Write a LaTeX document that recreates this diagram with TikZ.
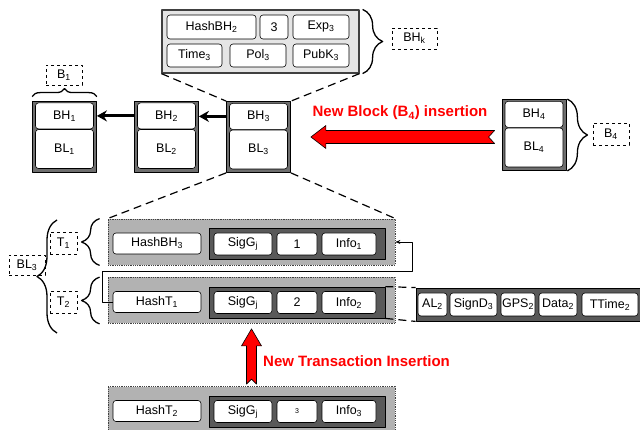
\documentclass[tikz,border=0pt]{standalone}
\usepackage{fontspec}
\setmainfont{Liberation Sans}
\usetikzlibrary{positioning,calc,arrows.meta,decorations.pathreplacing}

\begin{document}
\begin{tikzpicture}[x=1pt, y=-1pt, font=\fontsize{12.5}{14}\selectfont, line join=round, >=Stealth,
	cell/.style={draw, fill=white, rounded corners=3pt, line width=0.6pt, inner sep=0pt},
	tag/.style={draw, dashed, inner sep=0pt, line width=0.6pt},
	frame/.style={draw, fill=black!57, line width=0.8pt, inner sep=0pt},
	txbox/.style={draw=black!75, densely dotted, fill=black!30, line width=0.8pt, inner sep=0pt},
	sigbox/.style={draw, fill=black!65, line width=0.8pt, inner sep=0pt},
	wh/.style 2 args={minimum width=#1pt, minimum height=#2pt},
	brc/.style={decorate, decoration={brace, amplitude=#1}, line width=1.3pt},
	fan/.style={dash pattern=on 8pt off 5pt, line width=1.2pt},
	fat/.style={draw=black, line width=0.6pt, fill=red},
	redtxt/.style={text=red, inner sep=0pt, font=\fontsize{15}{17}\selectfont\bfseries}]
	\useasboundingbox (0,0) rectangle (640,430);
	
	% block header
	\node[frame, fill=black!10, draw=black!75, line width=1.2pt, wh={197}{63}] (bhk) at (260.5,41.5) {};
	\node[cell, wh={89}{24}] (hashbh) at (211.5,27) {HashBH\textsubscript{2}};
	\node[cell, wh={28}{24}] (nonce) at (274,27) {3};
	\node[cell, wh={56}{24}] (exp) at (321,27) {Exp\textsubscript{3}};
	\node[cell, wh={55}{23}] (time) at (194.5,55.5) {Time\textsubscript{3}};
	\node[cell, wh={56}{23}] (pol) at (258,55.5) {Pol\textsubscript{3}};
	\node[cell, wh={56}{23}] (pubk) at (321,55.5) {PubK\textsubscript{3}};
	\node[tag, wh={45}{21}] (lbhk) at (414.5,38.5) {BH\textsubscript{k}};
	\draw[brc=20pt] ([xshift=3pt]bhk.north east) -- ([xshift=3pt]bhk.south east);
	
	% chain of blocks
	\foreach \n/\x/\y in {1/64.5/136.5, 2/166.5/136.5, 3/258.5/137, 4/534/135} {
		\node[frame, wh={64}{71}] (b\n) at (\x,\y) {};
		\node[cell, wh={58}{26}, below=2pt of b\n.north] (bh\n) {BH\textsubscript{\n}};
		\node[cell, wh={58}{39}, below=0pt of bh\n] (bl\n) {BL\textsubscript{\n}};
	}
	\draw[line width=2.8pt, -{Stealth[length=10pt,width=11pt]}] (b2.west |- bh2) -- (b1.east |- bh2);
	\draw[line width=2.8pt, -{Stealth[length=10pt,width=11pt]}] (b3.west |- bh3) -- (b2.east |- bh3);
	\draw[fan] (bhk.south west) -- (b3.north west) (bhk.south east) -- (b3.north east);
	
	\node[tag, wh={36}{20}] (lb1) at (64,75) {B\textsubscript{1}};
	\draw[brc=8pt] ([yshift=4pt]b1.north west) -- ([yshift=4pt]b1.north east);
	\node[tag, wh={36}{22}] (lb4) at (611,134) {B\textsubscript{4}};
	\draw[brc=20pt] ([xshift=1pt]b4.north east) -- ([xshift=1pt]b4.south east);
	
	% new block arrow
	\coordinate (ntip) at ([xshift=20pt]b3.east);
	\coordinate (ntail) at (b4.west |- ntip);
	\draw[fat] (ntip) -- ++(15,-11.5) -- ++(0,5) -- ($(ntail)+(-7,-6.5)$) -- ++(-6,6.5) -- ++(6,6.5)
		-- ($(ntip)+(15,6.5)$) -- ++(0,5) -- cycle;
	\node[redtxt] (nbtxt) at (400,113) {New Block (B\textsubscript{4}) insertion};
	
	% transactions
	\foreach \k/\y/\hname/\num in {1/242/{HashBH\textsubscript{3}}/1, 2/300.5/{HashT\textsubscript{1}}/2,
		3/409.5/{HashT\textsubscript{2}}/{\fontsize{7}{8}\selectfont 3}} {
		\node[txbox, wh={287}{46}] (t\k) at (251.5,\y) {};
		\node[cell, wh={88}{21}] (h\k) at (157,\y+1.5) {\hname};
		\node[sigbox, wh={176}{31}] (s\k) at (297,\y+2) {};
		\node[cell, wh={58}{22}] (sg\k) at (243,\y+2) {SigG\textsubscript{j}};
		\node[cell, wh={40}{22}] (n\k) at (297,\y+2) {\num};
		\node[cell, wh={54}{22}] (inf\k) at (349,\y+2) {Info\textsubscript{\k}};
	}
	\draw[fan] (b3.south west) -- (t1.north west) (b3.south east) -- (t1.north east);
	\coordinate (lnk) at (412,271);
	\draw[line width=0.6pt, -{Stealth[length=5pt,width=4pt]}] (h2.west) -- ++(-10,0) |- (lnk) |- (t1.east);
	
	\node[tag, wh={27}{22}] (lt1) at (63.5,243) {T\textsubscript{1}};
	\node[tag, wh={27}{22}] (lt2) at (63.5,302) {T\textsubscript{2}};
	\draw[brc=18pt] ([xshift=-8pt]t1.south west) -- ([xshift=-8pt]t1.north west);
	\draw[brc=18pt] ([xshift=-8pt]t2.south west) -- ([xshift=-8pt]t2.north west);
	\node[tag, wh={36}{20}] (lbl3) at (27,265) {BL\textsubscript{3}};
	\coordinate (bt) at (57,220);
	\coordinate (bb) at (57,333);
	\draw[brc=20pt] (bb) -- (bt);
	
	% transaction details
	\node[sigbox, wh={232}{33}] (ext) at (532,304.5) {};
	\foreach \nm/\x/\w/\txt in {al/432.5/29/{AL\textsubscript{2}}, sd/473.5/47/{SignD\textsubscript{3}},
		gps/518/34/{GPS\textsubscript{2}}, dat/558/38/{Data\textsubscript{2}}, tt/610/56/{TTime\textsubscript{2}}}
		\node[cell, wh={\w}{23}] (\nm) at (\x,304.5) {\txt};
	\draw[fan] (s2.north east) -- (ext.north west) (s2.south east) -- (ext.south west);
	
	% new transaction arrow
	\coordinate (ttip) at ([yshift=-5pt]t2.south);
	\coordinate (ttail) at ([yshift=2pt]t3.north);
	\draw[fat] (ttip) -- ++(10,17) -- ++(-5,0) -- ($(ttail)+(5,0)$) -- ++(-5,-5) -- ++(-5,5)
		-- ($(ttip)+(-5,17)$) -- ++(-5,0) -- cycle;
	\node[redtxt, anchor=west] (nttxt) at (263,361) {New Transaction Insertion};
\end{tikzpicture}
\end{document}
